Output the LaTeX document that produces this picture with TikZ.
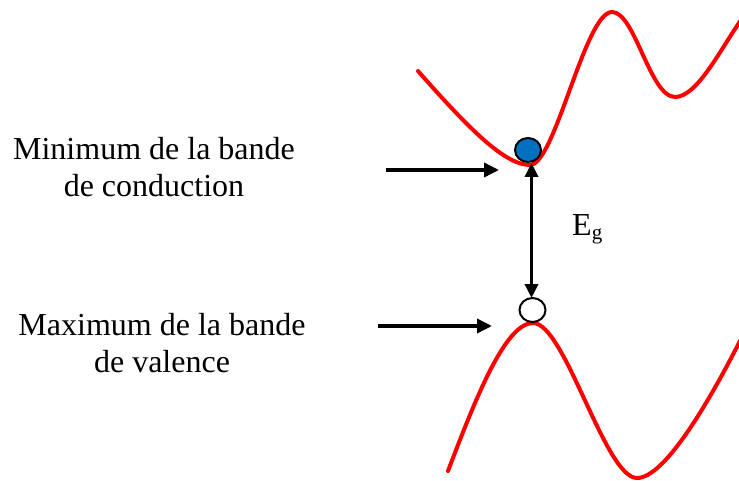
\documentclass[tikz,border=0pt]{standalone}
\usepackage{fontspec}
\setmainfont{Liberation Serif}
\usetikzlibrary{arrows.meta,shapes.geometric}
\definecolor{carrier}{RGB}{0,112,192}
\begin{document}
\begin{tikzpicture}[x=1pt,y=-1pt,
  band/.style={draw=red, line width=4pt, line cap=round},
  pointer/.style={draw=black, line width=3.5pt, -{Triangle[length=15pt,width=14pt]}},
  gap/.style={draw=black, line width=3.5pt, {Triangle[length=14pt,width=13pt]}-{Triangle[length=14pt,width=13pt]}},
  dot/.style={draw=black, line width=2pt, ellipse, minimum width=26pt, minimum height=24pt, inner sep=0pt},
  lbl/.style={font=\fontsize{32}{37}\selectfont, align=center, inner sep=0pt}]
\useasboundingbox (0,0) rectangle (739,481);
% bands
\draw[band] (418,71) .. controls (470,130) and (505,165) .. (530,165)
  .. controls (555,165) and (585,12) .. (612,12)
  .. controls (635,12) and (650,97) .. (675,97)
  .. controls (697,97) and (720,50) .. (741,20);
\draw[band] (448,471) .. controls (475,400) and (505,323) .. (533,323)
  .. controls (565,323) and (605,478) .. (637,478)
  .. controls (665,478) and (710,400) .. (741,339);
% particles
\node (e) [dot, fill=carrier] at (528,150) {};
\node (h) [dot, fill=white] at (532.5,310) {};
% labels
\node (cb) [lbl, anchor=base] at (154,197) {Minimum de la bande\\de conduction};
\node (vb) [lbl, anchor=base] at (162,372) {Maximum de la bande\\de valence};
\node (eg) [inner sep=0pt, anchor=base west, font=\fontsize{32}{37}\selectfont] at (572,236) {E\textsubscript{\fontsize{21}{24}\selectfont g}};
% arrow points
\coordinate (a1s) at (386,170);
\coordinate (a1e) at (499,170);
\coordinate (a2s) at (378,326);
\coordinate (a2e) at (492,326);
\coordinate (gt) at (531.5,163);
\coordinate (gb) at (531.5,298);
\draw[pointer] (a1s) -- (a1e);
\draw[pointer] (a2s) -- (a2e);
\draw[gap] (gt) -- (gb);
\end{tikzpicture}
\end{document}
